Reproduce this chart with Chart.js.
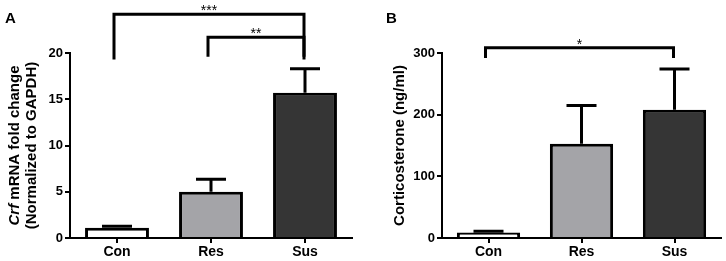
<!DOCTYPE html>
<html>
<head>
<meta charset="utf-8">
<script src="https://cdn.jsdelivr.net/npm/chart.js@4/dist/chart.umd.min.js"></script>
<style>
  html,body{margin:0;padding:0;background:#fff;}
  .panel{position:absolute;top:0;width:363px;height:261px;}
</style>
</head>
<body>
<div class="panel" style="left:0"><canvas id="cA" width="363" height="261"></canvas></div>
<div class="panel" style="left:363px"><canvas id="cB" width="363" height="261"></canvas></div>
<script>
// ---- data ----
const categories = ['Con', 'Res', 'Sus'];
const crfMean = [1.1, 5.0, 15.7];
const crfSem = [0.17, 1.35, 2.6];
const crfTicks = [0, 5, 10, 15, 20];
const cortMean = [9, 153, 208];
const cortSem = [2, 62, 66];
const cortTicks = [0, 100, 200, 300];
const crfSig = [{ from: 0, to: 2, label: '***' }, { from: 1, to: 2, label: '**' }];
const cortSig = [{ from: 0, to: 2, label: '*' }];

// ---- style / layout ----
const FONT = '"Liberation Sans", Arial, Helvetica, sans-serif';
const barColors = ['#ffffff', '#a4a4a8', '#353535'];
// bracket heights in data units (bar level, leg bottom)
const crfBracketLevels = [[24.2, 19.3], [21.7, 19.6]];
const cortBracketLevels = [[308.4, 291.7]];

function makePanel(id, mean, sem, ticks, sig, levels, cfg) {
  const plugin = {
    id: 'extras' + id,
    afterDatasetsDraw(chart) {
      const ctx = chart.ctx;
      const meta = chart.getDatasetMeta(0);
      const ys = chart.scales.y;
      ctx.save();
      ctx.strokeStyle = '#000';
      ctx.lineWidth = 3;
      ctx.lineCap = 'butt';
      // error bars (mean + SEM)
      meta.data.forEach((bar, i) => {
        const yb = ys.getPixelForValue(mean[i]);
        const yt = ys.getPixelForValue(mean[i] + sem[i]);
        ctx.beginPath();
        ctx.moveTo(bar.x, yb);
        ctx.lineTo(bar.x, yt);
        ctx.moveTo(bar.x - 15, yt);
        ctx.lineTo(bar.x + 15, yt);
        ctx.stroke();
      });
      // significance brackets
      sig.forEach((s, k) => {
        const x1 = meta.data[s.from].x - 3;
        const x2 = meta.data[s.to].x - 1;
        const yl = ys.getPixelForValue(levels[k][0]);
        const yf = ys.getPixelForValue(levels[k][1]);
        ctx.beginPath();
        ctx.moveTo(x1, yf);
        ctx.lineTo(x1, yl);
        ctx.lineTo(x2, yl);
        ctx.lineTo(x2, yf);
        ctx.stroke();
        ctx.fillStyle = '#000';
        ctx.font = '14px ' + FONT;
        ctx.textAlign = 'center';
        ctx.textBaseline = 'alphabetic';
        ctx.fillText(s.label, (x1 + x2) / 2, yl + 1);
      });
      ctx.restore();
    },
    afterDraw(chart) {
      const ctx = chart.ctx;
      const area = chart.chartArea;
      const cy = (area.top + area.bottom) / 2;
      ctx.save();
      ctx.fillStyle = '#000';
      // panel letter
      ctx.font = 'bold 15px ' + FONT;
      ctx.textAlign = 'left';
      ctx.textBaseline = 'alphabetic';
      ctx.fillText(cfg.letter, cfg.letterX, 23);
      // y-axis title
      cfg.titleLines.forEach((line) => {
        ctx.save();
        ctx.translate(line.x, cy);
        ctx.rotate(-Math.PI / 2);
        ctx.textBaseline = 'middle';
        ctx.textAlign = 'left';
        let total = 0;
        line.parts.forEach(p => {
          ctx.font = (p.italic ? 'italic ' : '') + 'bold 15px ' + FONT;
          total += ctx.measureText(p.text).width;
        });
        let x = -total / 2;
        line.parts.forEach(p => {
          ctx.font = (p.italic ? 'italic ' : '') + 'bold 15px ' + FONT;
          ctx.fillText(p.text, x, 0);
          x += ctx.measureText(p.text).width;
        });
        ctx.restore();
      });
      ctx.restore();
    }
  };

  return new Chart(document.getElementById(id), {
    type: 'bar',
    data: {
      labels: categories,
      datasets: [{
        data: mean,
        backgroundColor: barColors,
        borderColor: '#000',
        borderWidth: 3,
        barPercentage: 0.68,
        categoryPercentage: 1.0
      }]
    },
    options: {
      responsive: false,
      animation: false,
      devicePixelRatio: 1,
      layout: { padding: { left: 0, top: 53, right: cfg.padRight, bottom: 0 } },
      plugins: { legend: { display: false }, tooltip: { enabled: false } },
      scales: {
        x: {
          afterFit: (s) => { s.height = 23; },
          grid: { display: true, offset: false, drawOnChartArea: false, drawTicks: true, tickLength: 5, color: '#000', lineWidth: 2 },
          border: { display: true, color: '#000', width: 2 },
          ticks: { color: '#000', padding: 1, font: { family: FONT, size: 14, weight: 'bold' } }
        },
        y: {
          min: ticks[0],
          max: ticks[ticks.length - 1],
          afterFit: (s) => { s.width = cfg.yAxisW; },
          afterBuildTicks: (s) => { s.ticks = ticks.map(v => ({ value: v })); },
          grid: { display: true, drawOnChartArea: false, drawTicks: true, tickLength: 5, color: '#000', lineWidth: 2 },
          border: { display: true, color: '#000', width: 2 },
          ticks: { color: '#000', padding: 2, font: { family: FONT, size: 13, weight: 'bold' } }
        }
      }
    },
    plugins: [plugin]
  });
}

makePanel('cA', crfMean, crfSem, crfTicks, crfSig, crfBracketLevels, {
  letter: 'A', letterX: 5, yAxisW: 70, padRight: 11,
  titleLines: [
    { x: 15, parts: [{ text: 'Crf', italic: true }, { text: ' mRNA fold change' }] },
    { x: 32, parts: [{ text: '(Normalized to GAPDH)' }] }
  ]
});
makePanel('cB', cortMean, cortSem, cortTicks, cortSig, cortBracketLevels, {
  letter: 'B', letterX: 23, yAxisW: 79, padRight: 5,
  titleLines: [
    { x: 37, parts: [{ text: 'Corticosterone (ng/ml)' }] }
  ]
});
</script>
</body>
</html>
